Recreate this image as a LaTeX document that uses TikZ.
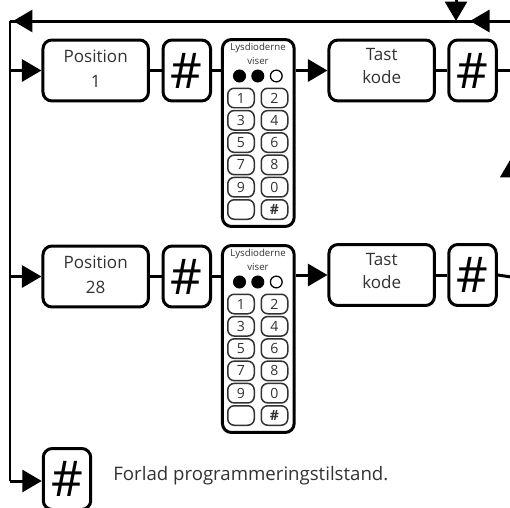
\documentclass[tikz,border=0pt]{standalone}
\usepackage{fontspec}
\setmainfont{Open Sans}
\usetikzlibrary{arrows.meta}
\definecolor{keygrey}{RGB}{50,50,50}

\begin{document}
\begin{tikzpicture}[x=0.02cm,y=-0.02cm]

%
% Styles
%
\tikzstyle{box} = [rectangle,rounded corners=0.18cm,draw=black,fill=white,line width=0.06cm,inner sep=0pt,align=center,text=keygrey]
\tikzstyle{step box} = [box,minimum width=2.11cm,minimum height=1.22cm,font=\fontsize{9.7}{13}\selectfont]
\tikzstyle{hash box} = [box,minimum width=0.95cm,minimum height=1.22cm,text=black,font=\fontsize{28}{30}\selectfont]
\tikzstyle{panel} = [box,minimum width=1.434cm,minimum height=3.74cm]
\tikzstyle{small} = [inner sep=0pt,text=keygrey,font=\fontsize{5.5}{6}\selectfont]
\tikzstyle{key} = [rectangle,rounded corners=0.13cm,draw=keygrey,fill=white,line width=0.03cm,minimum width=0.53cm,minimum height=0.39cm,inner sep=0pt,text=keygrey,font=\fontsize{8}{8}\selectfont]
\tikzstyle{led} = [circle,draw=black,line width=0.025cm,minimum size=0.235cm,inner sep=0pt]
\tikzstyle{flow} = [line width=0.06cm]
\tikzstyle{flowtip} = [line width=0.06cm,-{Triangle[length=0.39cm,width=0.44cm]}]

\clip (0,0) rectangle (510,507);

\node[step box] (pos1) at (95.7,70.5) {Position\\[1.2pt]1\\[-11pt]~};
\node[hash box] (hash1) at (186.8,70.5) {\#};
\node[panel] (panel1) at (258.3,133) {};
\node[step box] (tast1) at (381.7,70.5) {Tast\\kode\\[-8pt]~};
\node[hash box] (hashr1) at (472.5,70.5) {\#};

\node[step box] (pos2) at (95.7,276.5) {Position\\[1.2pt]28\\[-11pt]~};
\node[hash box] (hash2) at (186.8,276.5) {\#};
\node[panel] (panel2) at (258.3,339) {};
\node[step box] (tast2) at (381.7,275) {Tast\\kode\\[-8pt]~};
\node[hash box] (hashr2) at (472.5,275) {\#};

\node[hash box] (hashend) at (67,479) {\#};
\node[anchor=west,inner sep=0pt,text=keygrey,font=\fontsize{10.6}{13}\selectfont] (leave) at (113,476) {Forlad programmeringstilstand.};

% panel contents
\foreach \p/\ytop in {1/39.5,2/245.5} {
  \node[small] (title\p) at (258,\ytop+8.5) {Lysdioderne};
  \node[small] (viser\p) at (258,\ytop+21.5) {viser};
  \node[led,fill=black] (leda\p) at (239.5,\ytop+36.5) {};
  \node[led,fill=black] (ledb\p) at (257.8,\ytop+36.5) {};
  \node[led,fill=white] (ledc\p) at (276.3,\ytop+36.5) {};
  \foreach \lab/\col/\row in {1/241/0,2/274.5/0,3/241/1,4/274.5/1,5/241/2,6/274.5/2,7/241/3,8/274.5/3,9/241/4,0/274.5/4,/241/5,\textbf{\#}/274.5/5} {
    \node[key] (key\p\col\row) at (\col,\ytop+58.5+22.3*\row) {\lab};
  }
}

% free ends of the connectors
\coordinate (nw) at (10,21);
\coordinate (sw) at (10,481);
\coordinate (ne) at (515,21);
\coordinate (top) at (456,-5);
\coordinate (topjoin) at (456,21);
\coordinate (backtip) at (470,21);
\coordinate (nwtip) at (13,21);
\coordinate (se) at (511.2,277);
\coordinate (uptip) at (511.2,158);

\draw[flow] (nw) -- (sw);
\draw[flow] (ne) -- (nw);
\draw[flowtip] (topjoin) -- (nwtip);
\draw[flowtip] (top) -- (topjoin);
\draw[flowtip] (ne) -- (backtip);
\draw[flowtip] (se) -- (uptip);
\draw[flow] (uptip) -- (uptip |- ne);

\draw[flowtip] (nw |- pos1.west) -- (pos1.west);
\draw[flow] (pos1.east) -- (hash1.west);
\draw[flow] (hash1.east) -- (panel1.west |- hash1.east);
\draw[flowtip] (panel1.east |- tast1.west) -- (tast1.west);
\draw[flow] (tast1.east) -- (hashr1.west);
\draw[flow] (hashr1.east) -- (ne |- hashr1.east);

\draw[flowtip] (nw |- pos2.west) -- (pos2.west);
\draw[flow] (pos2.east) -- (hash2.west);
\draw[flow] (hash2.east) -- (panel2.west |- hash2.east);
\draw[flowtip] (panel2.east |- tast2.west) -- (tast2.west);
\draw[flow] (tast2.east) -- (hashr2.west);
\draw[flow] (hashr2.east) -- (se);

\draw[flowtip] (sw) -- (sw -| hashend.west);

\end{tikzpicture}
\end{document}
